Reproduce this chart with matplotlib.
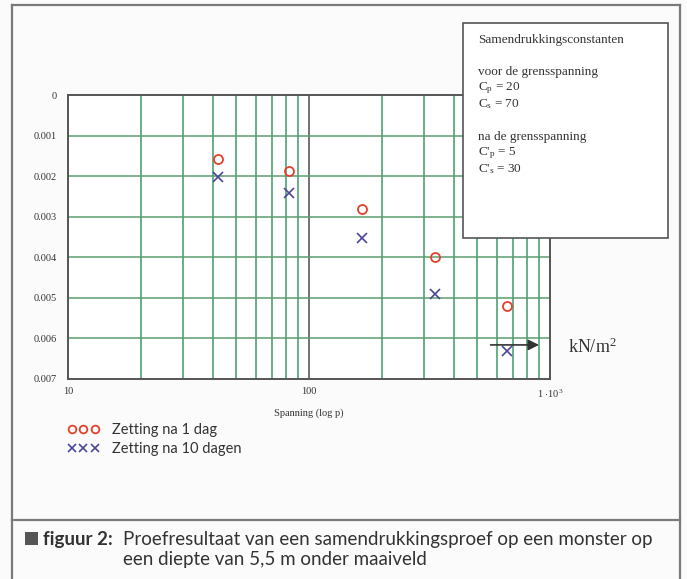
import matplotlib
matplotlib.use("Agg")
import matplotlib.pyplot as plt
from matplotlib.lines import Line2D
from matplotlib.patches import Rectangle

# ---- data ----
pressure = [42, 83, 166, 332, 665]            # kN/m2
settle_1day = [0.00158, 0.00187, 0.00281, 0.00399, 0.00520]
settle_10days = [0.00202, 0.00241, 0.00352, 0.00490, 0.00630]
y_ticks = [0, 0.001, 0.002, 0.003, 0.004, 0.005, 0.006, 0.007]
y_ticklabels = ["0", "0.001", "0.002", "0.003", "0.004", "0.005", "0.006", "0.007"]
x_ticks = [10, 100, 1000]
x_ticklabels = ["10", "100", r"1 $\cdot$10$^3$"]
label_1day = "Zetting na 1 dag"
label_10days = "Zetting na 10 dagen"
box_lines = ["Samendrukkingsconstanten", "", "voor de grensspanning",
             r"C$_p$ = 20", r"C$_s$ = 70", "", "na de grensspanning",
             r"C'$_p$ = 5", r"C'$_s$ = 30"]

W, H = 687, 579
plt.rcParams['mathtext.fontset'] = 'custom'
plt.rcParams['mathtext.rm'] = 'Liberation Serif'
plt.rcParams['mathtext.it'] = 'Liberation Serif:italic'
plt.rcParams['mathtext.default'] = 'rm'

fig = plt.figure(figsize=(W / 100, H / 100), dpi=100, facecolor='#fbfbfb')

def fx(px):
    return px / W

def fy(py):
    return 1 - py / H

SERIF = 'Liberation Serif'
SANS = 'Lato'
grid_c = '#3f9a6c'

ax = fig.add_axes([fx(68), fy(379), fx(550) - fx(68), fy(95) - fy(379)])
ax.set_facecolor('white')
ax.set_xscale('log')
ax.set_xlim(10, 1000)
ax.set_ylim(0.007, 0)

# grid lines
for v in [20, 30, 40, 50, 60, 70, 80, 90, 200, 300, 400, 500, 600, 700, 800, 900]:
    ax.axvline(v, color=grid_c, lw=1.1, zorder=1)
ax.axvline(100, color='#666666', lw=1.3, zorder=1)
for h in y_ticks[1:-1]:
    ax.axhline(h, color='#5c9e72', lw=1.1, zorder=1)

ax.plot(pressure, settle_1day, linestyle='none', marker='o', ms=6.5,
        mfc='none', mec='#e2412b', mew=1.3, zorder=3, label=label_1day)
ax.plot(pressure, settle_10days, linestyle='none', marker='x', ms=6.5,
        color='#4b4796', mew=1.2, zorder=3, label=label_10days)

ax.set_yticks(y_ticks)
ax.set_yticklabels(y_ticklabels, fontsize=7.5, family=SERIF, color='#333333')
ax.set_xticks(x_ticks)
ax.set_xticklabels(x_ticklabels, fontsize=7.5, family=SERIF, color='#333333')
ax.xaxis.set_minor_locator(plt.NullLocator())
ax.tick_params(length=0, pad=8)
ax.tick_params(axis='x', pad=6)
for s in ax.spines.values():
    s.set_color('#555555')
    s.set_linewidth(1.4)

ax.set_xlabel("Spanning (log p)", fontsize=7.5, family=SERIF, color='#333333', labelpad=6)

# arrow and unit
ax.annotate("", xy=(0.983, 0.12), xytext=(0.871, 0.12), xycoords='axes fraction',
            arrowprops=dict(arrowstyle='-|>', color='#333333', lw=1.2,
                            mutation_scale=16), zorder=4)
fig.text(fx(568), fy(347), r"kN/m$^2$", fontsize=13, family=SERIF,
         color='#333333', va='center', ha='left')

# legend below the plot
leg = fig.legend(loc='upper left', bbox_to_anchor=(fx(54), fy(410)),
                 numpoints=3, frameon=False, handlelength=2.18, handletextpad=0.9,
                 labelspacing=0.36, markerscale=0.85,
                 prop={'family': SANS, 'size': 10.5})
for t in leg.get_texts():
    t.set_color('#333333')

# text box with constants
fig.add_artist(Rectangle((fx(463), fy(238)), fx(668) - fx(463), fy(23) - fy(238),
                         transform=fig.transFigure, facecolor='white',
                         edgecolor='#555555', lw=1.2, zorder=5))
y0 = 40
for i, line in enumerate(box_lines):
    fig.text(fx(478), fy(y0 + i * 16.1), line, fontsize=9.5, family=SERIF,
             color='#333333', va='center', ha='left', zorder=6)

# outer frame and caption separator
frame_c = '#7a7a7a'
fig.add_artist(Line2D([fx(12), fx(12)], [fy(5), fy(579)], transform=fig.transFigure, color=frame_c, lw=1.6))
fig.add_artist(Line2D([fx(680), fx(680)], [fy(5), fy(579)], transform=fig.transFigure, color=frame_c, lw=1.6))
fig.add_artist(Line2D([fx(12), fx(680)], [fy(5), fy(5)], transform=fig.transFigure, color=frame_c, lw=1.6))
fig.add_artist(Line2D([fx(12), fx(680)], [fy(520), fy(520)], transform=fig.transFigure, color=frame_c, lw=1.6))

# caption
fig.add_artist(Rectangle((fx(25), fy(545)), fx(38) - fx(25), fy(532) - fy(545),
                         transform=fig.transFigure, facecolor='#555555', edgecolor='none'))
fig.text(fx(43), fy(539), "figuur 2:", fontsize=13.5, family=SANS, weight='bold',
         color='#333333', va='center', ha='left')
fig.text(fx(123), fy(539), "Proefresultaat van een samendrukkingsproef op een monster op",
         fontsize=13.5, family=SANS, color='#333333', va='center', ha='left')
fig.text(fx(123), fy(560), "een diepte van 5,5 m onder maaiveld",
         fontsize=13.5, family=SANS, color='#333333', va='center', ha='left')

fig.savefig("out.png", dpi=100, facecolor=fig.get_facecolor())
